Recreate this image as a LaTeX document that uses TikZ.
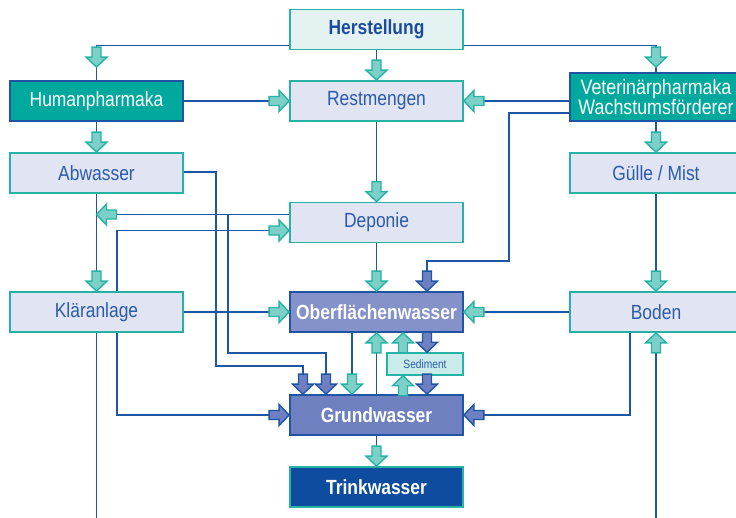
\documentclass[tikz,border=0pt]{standalone}
\usepackage{fontspec}
\setmainfont[FakeStretch=0.85]{Liberation Sans}
\usetikzlibrary{calc}
\definecolor{lineblue}{HTML}{1F55A5}
\definecolor{tealb}{HTML}{26B3A6}
\definecolor{arrteal}{HTML}{7DD0C7}
\definecolor{arrlav}{HTML}{6F80C2}
\definecolor{boxlight}{HTML}{E1E4F3}
\definecolor{hstfill}{HTML}{E4F3F2}
\definecolor{humfill}{HTML}{00A89D}
\definecolor{oberfill}{HTML}{8592CA}
\definecolor{grundfill}{HTML}{6F80C0}
\definecolor{trinkfill}{HTML}{0E4CA0}
\definecolor{sedfill}{HTML}{C9EBEA}
\definecolor{textblue}{HTML}{2B5BAA}
\definecolor{darktext}{HTML}{1C4B9C}
\tikzset{
  box/.style={rectangle, minimum width=173pt, minimum height=40pt, inner sep=0pt,
    line width=1.8pt, font=\fontsize{20.5}{22}\selectfont},
  lightbox/.style={box, fill=boxlight, draw=tealb, text=textblue},
  tealbox/.style={box, fill=humfill, draw=lineblue, text=white},
  waterbox/.style={box, draw=lineblue, text=white, font=\fontsize{20.5}{22}\selectfont\bfseries},
  conn/.style={draw=lineblue, line width=1.8pt},
  tarr/.style={fill=arrteal, draw=tealb, line width=1.4pt},
  larr/.style={fill=arrlav, draw=lineblue, line width=1.4pt},
  barr/.pic={\draw[pic actions, line join=miter] (0pt,0pt) -- (-10.5pt,-10pt) -- (-4.5pt,-10pt) -- (-4.5pt,-20pt)
     -- (4.5pt,-20pt) -- (4.5pt,-10pt) -- (10.5pt,-10pt) -- cycle;}
}
\begin{document}
\begin{tikzpicture}[x=1pt,y=-1pt]
\useasboundingbox (0,0) rectangle (736,517);
\clip (0,0) rectangle (736,517);
% nodes
\node[box, fill=hstfill, draw=tealb, text=darktext, font=\fontsize{20.5}{22}\selectfont\bfseries] (hst) at (376.5,29.5) {Herstellung};
\node[tealbox] (hum) at (96.5,101) {Humanpharmaka};
\node[lightbox] (rest) at (376.5,101) {Restmengen};
\node[tealbox, minimum width=172pt, minimum height=48pt, align=center,
  font=\fontsize{21}{18}\selectfont] (vet) at (656,97) {Veterinärpharmaka\\Wachstumsförderer};
\node[lightbox] (abw) at (96.5,173) {Abwasser};
\node[lightbox, minimum width=172pt] (guel) at (656,173) {Gülle / Mist};
\node[lightbox] (dep) at (376.5,222.5) {Deponie};
\node[lightbox] (klar) at (96.5,312) {Kläranlage};
\node[waterbox, fill=oberfill] (ober) at (376.5,312) {Oberflächenwasser};
\node[lightbox, minimum width=172pt] (bod) at (656,312) {Boden};
\node[rectangle, minimum width=76pt, minimum height=22pt, inner sep=0pt, line width=1.5pt,
  fill=sedfill, draw=tealb, text=textblue, font=\fontsize{12}{13}\selectfont] (sed) at (425,364) {Sediment};
\node[waterbox, fill=grundfill] (grund) at (376.5,415) {Grundwasser};
\node[waterbox, fill=trinkfill, draw=tealb] (trink) at (376.5,487) {Trinkwasser};
% helper coordinates
\coordinate (d1) at ($(dep.west)+(0,-8)$);
\coordinate (s1) at ($(sed.north)+(-22,0)$);
\coordinate (s2) at ($(sed.north)+(2,0)$);
\coordinate (s3) at ($(sed.south)+(2,0)$);
\coordinate (s4) at ($(sed.south)+(-22,0)$);
\coordinate (kfree) at ($(klar.south)+(0,220)$);
\coordinate (bfree) at ($(bod.south)+(0,220)$);
% connectors
\draw[conn] ($(hst.south west)+(0,-5)$) -| (hum.north);
\draw[conn] (hst.south) -- (rest.north);
\draw[conn] ($(hst.south east)+(0,-5)$) -| (vet.north);
\draw[conn] (hum.east) -- (rest.west);
\draw[conn] (hum.south) -- (abw.north);
\draw[conn] (vet.west |- rest.east) -- (rest.east);
\draw[conn] ($(vet.south west)+(0,-9)$) -- ++(-60,0) |- ($(ober.north)+(50.5,-30)$) -- ($(ober.north)+(50.5,0)$);
\draw[conn] (vet.south) -- (guel.north);
\draw[conn] (rest.south) -- (dep.north);
\draw[conn] ($(abw.east)+(0,-1)$) -- ++(32,0) |- ($(grund.north)+(-73.5,-28)$) -- ($(grund.north)+(-73.5,0)$);
\draw[conn] (d1) -- (d1 -| abw.south);
\draw[conn] ($(d1)+(-61,0)$) |- ($(grund.north)+(-50.5,-41)$) -- ($(grund.north)+(-50.5,0)$);
\draw[conn] ($(klar.north)+(20.5,0)$) |- ($(dep.west)+(0,8)$);
\draw[conn] ($(klar.south)+(20.5,0)$) |- (grund.west);
\draw[conn] (abw.south) -- (klar.north);
\draw[conn] (klar.south) -- (kfree);
\draw[conn] (klar.east) -- (ober.west);
\draw[conn] (dep.south) -- (ober.north);
\draw[conn] (guel.south) -- (bod.north);
\draw[conn] (bod.west) -- (ober.east);
\draw[conn] ($(bod.south)+(-26,0)$) |- (grund.east);
\draw[conn] (bfree) -- (bod.south);
\draw[conn] ($(ober.south)+(-24.5,0)$) -- ($(grund.north)+(-24.5,0)$);
\draw[conn] (grund.north) -- (ober.south);
\draw[conn] (s1) -- (s1 |- ober.south);
\draw[conn] (s2 |- ober.south) -- (s2);
\draw[conn] (s3) -- (s3 |- grund.north);
\draw[conn] (s4 |- grund.north) -- (s4);
\draw[conn] (grund.south) -- (trink.north);
% block arrows
\pic[tarr, rotate=180] at ($(hum.north)+(0,-13)$) {barr};
\pic[tarr, rotate=180] at (rest.north) {barr};
\pic[tarr, rotate=180] at ($(vet.north)+(0,-5)$) {barr};
\pic[tarr, rotate=-90] at (rest.west) {barr};
\pic[tarr, rotate=180] at (abw.north) {barr};
\pic[tarr, rotate=90] at (rest.east) {barr};
\pic[larr, rotate=180] at ($(ober.north)+(50.5,0)$) {barr};
\pic[tarr, rotate=180] at (guel.north) {barr};
\pic[tarr, rotate=180] at (dep.north) {barr};
\pic[larr, rotate=180] at ($(grund.north)+(-73.5,0)$) {barr};
\pic[tarr, rotate=90] at (d1 -| abw.south) {barr};
\pic[larr, rotate=180] at ($(grund.north)+(-50.5,0)$) {barr};
\pic[tarr, rotate=-90] at ($(dep.west)+(0,8)$) {barr};
\pic[larr, rotate=-90] at (grund.west) {barr};
\pic[tarr, rotate=180] at (klar.north) {barr};
\pic[tarr, rotate=-90] at (ober.west) {barr};
\pic[tarr, rotate=180] at (ober.north) {barr};
\pic[tarr, rotate=180] at (bod.north) {barr};
\pic[tarr, rotate=90] at (ober.east) {barr};
\pic[larr, rotate=90] at (grund.east) {barr};
\pic[tarr] at (bod.south) {barr};
\pic[tarr, rotate=180] at ($(grund.north)+(-24.5,0)$) {barr};
\pic[tarr] at (ober.south) {barr};
\pic[tarr] at (s1 |- ober.south) {barr};
\pic[larr, rotate=180] at (s2) {barr};
\pic[larr, rotate=180] at (s3 |- grund.north) {barr};
\pic[tarr] at (s4) {barr};
\pic[tarr, rotate=180] at (trink.north) {barr};
\end{tikzpicture}
\end{document}
